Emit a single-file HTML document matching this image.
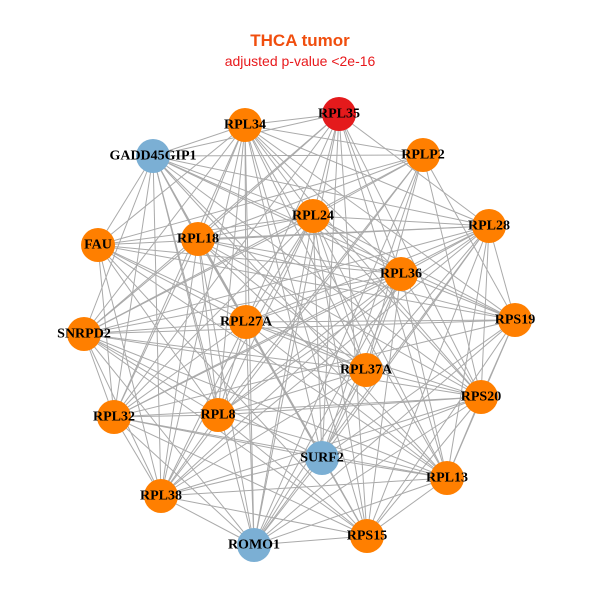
<!DOCTYPE html>
<html><head><meta charset="utf-8"><style>
html,body{margin:0;padding:0;background:#fff;}
svg{display:block}
.l{font-family:"Liberation Serif",serif;font-weight:bold;font-size:14px;fill:#000;text-anchor:middle;dominant-baseline:central}
</style></head><body>
<svg id="s" width="600" height="600" viewBox="0 0 600 600">
<text x="300" y="46" text-anchor="middle" font-family="Liberation Sans,sans-serif" font-weight="bold" font-size="17" fill="#F04E0E">THCA tumor</text>
<text x="300" y="66" text-anchor="middle" font-family="Liberation Sans,sans-serif" font-size="14" fill="#E8191C">adjusted p-value &lt;2e-16</text>
<g id="e" stroke="#aaaaaa" stroke-width="1"></g>
<g id="n"></g>
<g>
<text class="l" x="339" y="114">RPL35</text>
<text class="l" x="245" y="125">RPL34</text>
<text class="l" x="153" y="156">GADD45GIP1</text>
<text class="l" x="423" y="155">RPLP2</text>
<text class="l" x="313" y="216">RPL24</text>
<text class="l" x="489" y="226">RPL28</text>
<text class="l" x="98" y="245">FAU</text>
<text class="l" x="198" y="239">RPL18</text>
<text class="l" x="401" y="274">RPL36</text>
<text class="l" x="515" y="320">RPS19</text>
<text class="l" x="84" y="334">SNRPD2</text>
<text class="l" x="246" y="322">RPL27A</text>
<text class="l" x="366" y="370">RPL37A</text>
<text class="l" x="481" y="397">RPS20</text>
<text class="l" x="114" y="417">RPL32</text>
<text class="l" x="218" y="415">RPL8</text>
<text class="l" x="322" y="458">SURF2</text>
<text class="l" x="447" y="478">RPL13</text>
<text class="l" x="161" y="496">RPL38</text>
<text class="l" x="254" y="545">ROMO1</text>
<text class="l" x="367" y="536">RPS15</text>
</g>
</svg>
<script>
var P=[[339,114,'#E41A1C'],[245,125],[153,156,'#7BAFD4'],[423,155],[313,216],[489,226],[98,245],[198,239],[401,274],[515,320],[84,334],[246,322],[366,370],[481,397],[114,417],[218,415],[322,458,'#7BAFD4'],[447,478],[161,496],[254,545,'#7BAFD4'],[367,536]];
var NS='http://www.w3.org/2000/svg',e=document.getElementById('e'),n=document.getElementById('n');
for(var i=0;i<P.length;i++)for(var j=i+1;j<P.length;j++){if((i*7+j*3)%9==0)continue;var l=document.createElementNS(NS,'line');l.setAttribute('x1',P[i][0]);l.setAttribute('y1',P[i][1]);l.setAttribute('x2',P[j][0]);l.setAttribute('y2',P[j][1]);e.appendChild(l);}
P.forEach(function(p){var c=document.createElementNS(NS,'circle');c.setAttribute('cx',p[0]);c.setAttribute('cy',p[1]);c.setAttribute('r',17);c.setAttribute('fill',p[2]||'#FF7F00');n.appendChild(c);});
</script>
</body></html>
